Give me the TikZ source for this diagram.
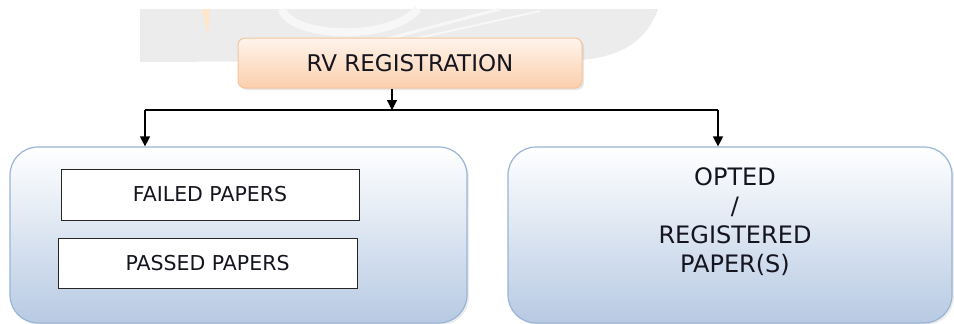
\documentclass[tikz,border=0pt]{standalone}
\usepackage{fontspec}
\setmainfont{DejaVu Sans}
\usetikzlibrary{arrows.meta,shadows}
\definecolor{wmgrey}{HTML}{ECECEC}
\definecolor{orangetop}{HTML}{FFF4EC}
\definecolor{orangebot}{HTML}{FBCFAC}
\definecolor{orangeline}{HTML}{F4C4A0}
\definecolor{bluebot}{HTML}{B7CAE3}
\definecolor{blueline}{HTML}{9AB4D6}
\definecolor{txt}{HTML}{15151F}
\tikzset{
  rvbox/.style={rounded corners=7pt, top color=orangetop, bottom color=orangebot,
    draw=orangeline, line width=1pt, minimum width=344pt, minimum height=50pt,
    inner sep=0pt, text=txt, font=\fontsize{23}{27}\selectfont,
    drop shadow={opacity=0.18, shadow xshift=2pt, shadow yshift=-2pt}},
  bigbox/.style={rounded corners=28pt, top color=white, bottom color=bluebot,
    draw=blueline, line width=1.2pt, inner sep=0pt,
    minimum height=176pt,
    drop shadow={opacity=0.15, shadow xshift=2pt, shadow yshift=-2pt}},
  paperbox/.style={draw=black!85, fill=white, line width=1pt, inner sep=0pt,
    text=txt, font=\fontsize{20.5}{24}\selectfont},
  conn/.style={line width=1.3pt, black},
  arr/.style={conn, -{Triangle[length=10pt,width=10pt]}},
}
\begin{document}
\begin{tikzpicture}[x=1pt,y=-1pt]
\useasboundingbox (0,0) rectangle (954,324);
% watermark
\fill[wmgrey] (140,9) -- (658,9) .. controls (648,38) and (625,56) .. (582,60) -- (140,62) -- cycle;
\draw[white!60!wmgrey, line width=8pt] (282,9) .. controls (290,38) and (390,42) .. (418,9);
\draw[white!60!wmgrey, line width=3pt] (383,40) -- (500,9);
\draw[white!60!wmgrey, line width=2pt] (400,42) -- (540,11);
\fill[orange!20] (202,9) -- (210,9) -- (208,37) -- cycle;
% nodes
\node[rvbox] (rv) at (410,63) {RV REGISTRATION};
\node[bigbox, minimum width=457pt] (left) at (238.5,235) {};
\node[bigbox, minimum width=444pt] (right) at (730,235) {};
\node[paperbox, minimum width=298pt, minimum height=51pt] (failed) at (210,194.5) {FAILED PAPERS};
\node[paperbox, minimum width=299pt, minimum height=50pt] (passed) at (207.5,263) {PASSED PAPERS};
\node[text=txt, align=center, font=\fontsize{24}{29}\selectfont] (opted) at (735,222)
  {OPTED\\/\\REGISTERED\\PAPER(S)};
% connectors
\coordinate (j) at (392,110);
\coordinate (lj) at (145,110);
\coordinate (rj) at (718,110);
\draw[arr] (rv.south -| j) -- (j);
\draw[conn] (lj) -- (rj);
\draw[arr] (lj) -- (lj |- left.north);
\draw[arr] (rj) -- (rj |- right.north);
\end{tikzpicture}
\end{document}
